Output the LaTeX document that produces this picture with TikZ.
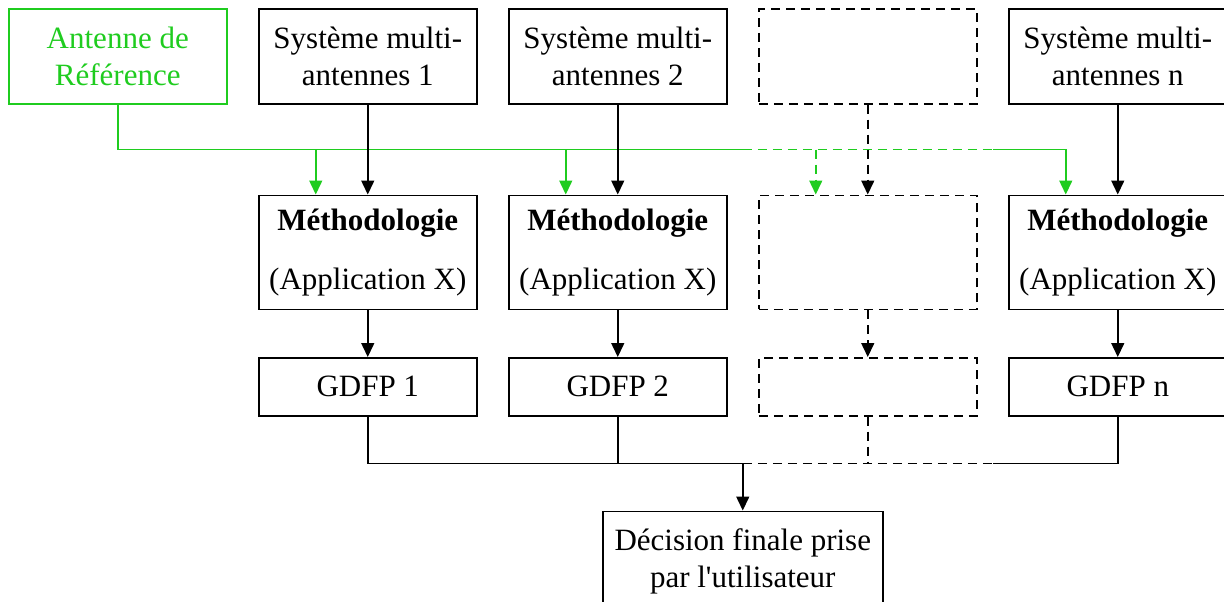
\documentclass[tikz,border=0pt]{standalone}
\usepackage{fontspec}
\setmainfont{Liberation Serif}
\usetikzlibrary{arrows.meta,positioning,calc}
\definecolor{refgreen}{HTML}{1FCC1F}
\tikzset{
  block/.style={draw=black,line width=0.75pt,minimum width=109pt,align=center,inner sep=2pt,
    font=\fontsize{15.5}{18.5}\selectfont},
  sysblock/.style={block,minimum height=47.5pt},
  methblock/.style={block,minimum height=57pt},
  gdfpblock/.style={block,minimum height=29pt},
  finalblock/.style={block,minimum width=140pt,minimum height=50pt},
  refblock/.style={sysblock,draw=refgreen,text=refgreen},
  ghost/.style={dash pattern=on 4.5pt off 3pt},
  link/.style={draw=black,line width=0.75pt},
  flow/.style={link,-{Triangle[width=6.5pt,length=7pt]}},
  refline/.style={link,draw=refgreen},
  refflow/.style={refline,-{Triangle[width=6.5pt,length=7pt]}}
}
\newcommand{\methtext}{{\bfseries Méthodologie}\\[11pt](Application X)}

\begin{document}
\begin{tikzpicture}[node distance=45pt and 15.25pt]
  \useasboundingbox (0,0) rectangle (612pt,-300.5pt);

  \node[refblock,anchor=north west] (ref) at (4pt,-4pt) {Antenne de\\Référence};
  \node[sysblock,right=of ref] (sys1) {Système multi-\\antennes 1};
  \node[sysblock,right=of sys1] (sys2) {Système multi-\\antennes 2};
  \node[sysblock,ghost,right=of sys2] (sysx) {};
  \node[sysblock,right=of sysx] (sysn) {Système multi-\\antennes n};

  \node[methblock,below=of sys1] (meth1) {\methtext};
  \node[methblock,below=of sys2] (meth2) {\methtext};
  \node[methblock,ghost,below=of sysx] (methx) {};
  \node[methblock,below=of sysn] (methn) {\methtext};

  \node[gdfpblock,below=23.5pt of meth1] (gdfp1) {GDFP 1};
  \node[gdfpblock,below=23.5pt of meth2] (gdfp2) {GDFP 2};
  \node[gdfpblock,ghost,below=23.5pt of methx] (gdfpx) {};
  \node[gdfpblock,below=23.5pt of methn] (gdfpn) {GDFP n};

  \coordinate (mid) at ($(gdfp2.south)!0.5!(gdfpx.south)$);
  \coordinate (join) at ($(mid)+(0,-23.5pt)$);
  \coordinate (split) at ($(gdfpx.east)!0.5!(gdfpn.west)$);
  \coordinate (bus) at ($(sys1.south)!0.5!(meth1.north)$);
  \coordinate (in1) at ($(meth1.north)+(-26pt,0)$);
  \coordinate (in2) at ($(meth2.north)+(-26pt,0)$);
  \coordinate (inx) at ($(methx.north)+(-26pt,0)$);
  \coordinate (inn) at ($(methn.north)+(-26pt,0)$);

  \node[finalblock,below=23.5pt of join] (final) {Décision finale prise\\par l\textquotesingle utilisateur};

  \draw[refline] (ref.south) |- (join |- bus);
  \draw[refline,ghost] (join |- bus) -- (split |- bus);
  \draw[refflow] (split |- bus) -| (inn);
  \draw[refflow] (in1 |- bus) -- (in1);
  \draw[refflow] (in2 |- bus) -- (in2);
  \draw[refflow,ghost] (inx |- bus) -- (inx);

  \draw[flow] (sys1.south) -- (meth1.north);
  \draw[flow] (sys2.south) -- (meth2.north);
  \draw[flow,ghost] (sysx.south) -- (methx.north);
  \draw[flow] (sysn.south) -- (methn.north);

  \draw[flow] (meth1.south) -- (gdfp1.north);
  \draw[flow] (meth2.south) -- (gdfp2.north);
  \draw[flow,ghost] (methx.south) -- (gdfpx.north);
  \draw[flow] (methn.south) -- (gdfpn.north);

  \draw[link] (gdfp1.south) |- (join);
  \draw[link] (gdfp2.south) -- (gdfp2.south |- join);
  \draw[link,ghost] (join) -- (split |- join);
  \draw[link,ghost] (gdfpx.south) -- (gdfpx.south |- join);
  \draw[link] (gdfpn.south) |- (split |- join);
  \draw[flow] (join) -- (final.north);
\end{tikzpicture}
\end{document}
